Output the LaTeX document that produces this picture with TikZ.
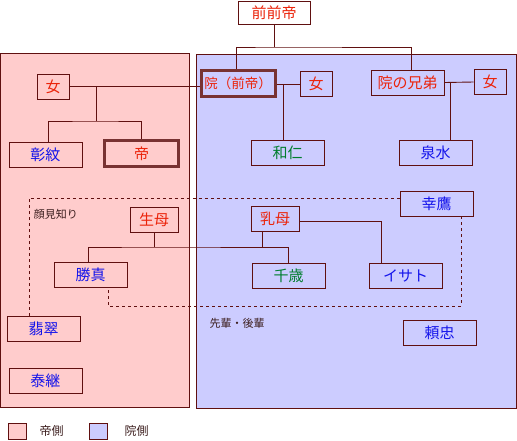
\documentclass[tikz,border=0pt]{standalone}
\usepackage{fontspec}
\setmainfont{Noto Sans CJK JP}
\usetikzlibrary{positioning}
\definecolor{pinkbg}{RGB}{255,204,204}
\definecolor{bluebg}{RGB}{204,204,255}
\definecolor{edge}{RGB}{96,16,16}
\definecolor{heavyedge}{RGB}{120,50,50}
\definecolor{redtxt}{RGB}{235,35,10}
\definecolor{bluetxt}{RGB}{20,20,235}
\definecolor{greentxt}{RGB}{0,125,45}
\definecolor{labeltxt}{RGB}{60,30,30}

\begin{document}
\begin{tikzpicture}[x=1pt, y=-1pt,
    every node/.style={font=\fontsize{15}{15}\selectfont, inner sep=0pt},
    ppl/.style={draw=edge, line width=0.9pt, minimum width=73pt, minimum height=25pt},
    onnabox/.style={ppl, minimum width=32pt},
    heavy/.style={draw=heavyedge, line width=3pt, minimum width=74pt, minimum height=26pt},
    rtxt/.style={text=redtxt},
    btxt/.style={text=bluetxt},
    gtxt/.style={text=greentxt},
    link/.style={draw=edge, line width=0.9pt},
    dotline/.style={draw=edge, line width=0.9pt, dash pattern=on 3pt off 3pt},
    note/.style={font=\fontsize{11}{11}\selectfont, text=labeltxt},
    legend/.style={draw=edge, line width=0.9pt, minimum width=18pt, minimum height=16pt}
]
  \useasboundingbox (0,0) rectangle (517,440);

  % Zonas: lado del emperador y lado del In
  \filldraw[fill=pinkbg, draw=edge, line width=0.9pt] (0.5,53) rectangle (189,407);
  \filldraw[fill=bluebg, draw=edge, line width=0.9pt] (196,54) rectangle (516.5,408);

  % Personajes
  \node[ppl, minimum width=72pt, minimum height=23pt, fill=white, rtxt] (zzt) at (274,12.5) {前前帝};
  \node[onnabox, fill=pinkbg, rtxt] (o1) at (53,86.5) {女};
  \node[heavy, fill=bluebg, rtxt, font=\fontsize{13.5}{13.5}\selectfont] (in) at (238,83.5) {院（前帝）};
  \node[onnabox, fill=bluebg, rtxt] (o2) at (316,84) {女};
  \node[ppl, fill=bluebg, rtxt] (ani) at (407.5,82.5) {院の兄弟};
  \node[onnabox, fill=bluebg, rtxt] (o3) at (490,82) {女};

  \node[ppl, fill=pinkbg, btxt] (sho) at (45.5,154.5) {彰紋};
  \node[heavy, fill=pinkbg, rtxt] (mik) at (141.5,153.5) {帝};
  \node[ppl, fill=bluebg, gtxt] (kaz) at (287.5,152.5) {和仁};
  \node[ppl, fill=bluebg, btxt] (izu) at (435.5,152.5) {泉水};

  \node[ppl, fill=bluebg, btxt] (yuk) at (436.5,203.5) {幸鷹};
  \node[ppl, minimum width=48pt, fill=pinkbg, rtxt] (sei) at (154,219.5) {生母};
  \node[ppl, minimum width=48pt, fill=bluebg, rtxt] (men) at (275,218.5) {乳母};

  \node[ppl, fill=pinkbg, btxt] (kat) at (90.5,275) {勝真};
  \node[ppl, fill=bluebg, gtxt] (chi) at (288.5,276) {千歳};
  \node[ppl, fill=bluebg, btxt] (isa) at (405.5,276) {イサト};

  \node[ppl, fill=pinkbg, btxt] (hi) at (43.5,329) {翡翠};
  \node[ppl, fill=bluebg, btxt] (yor) at (439.5,333) {頼忠};
  \node[ppl, fill=pinkbg, btxt] (yas) at (45.5,380.5) {泰継};

  % Rotulos
  \node[note] (kao) at (56,214) {顔見知り};
  \node[note] (sen) at (237,323) {先輩・後輩};

  % Parentesco
  \coordinate (j0) at (274,47);
  \draw[link] (zzt.south) -- (j0);
  \draw[link] ([xshift=-2pt]in.north) |- (j0) -| ([xshift=3.5pt]ani.north);

  \coordinate (j1) at (96,121);
  \draw[link] (o1.east) -- (o1.east -| in.west);
  \draw[link] (o1.east -| j1) -- (j1);
  \draw[link] ([xshift=2.5pt]sho.north) |- (j1) -| (mik.north);

  \draw[link] (o2.west -| in.east) -- (o2.west);
  \draw[link] ([xshift=-4.5pt]kaz.north) -- ([xshift=-4.5pt]kaz.north |- o2.west);

  \draw[link] (ani.east) -- (o3.west);
  \draw[link] ([xshift=14.5pt]izu.north) -- ([xshift=14.5pt]izu.north |- ani.east);

  \coordinate (j2) at (154,247);
  \draw[link] (sei.south) -- (j2);
  \draw[link] ([xshift=-2.5pt]kat.north) |- (j2) -| (chi.north);
  \draw[link] ([xshift=-13pt]men.south) -- ([xshift=-13pt]men.south |- j2);
  \draw[link] ([yshift=-3pt]men.east) -| ([xshift=-24.5pt]isa.north);

  % Conocidos
  \draw[dotline] ([xshift=-14.5pt]hi.north) |- ([yshift=5.5pt]yuk.west);
  \coordinate (j3) at (461,306);
  \draw[dotline] ([xshift=24.5pt]yuk.south) -- (j3) -| ([xshift=17.5pt]kat.south);

  % Leyenda
  \node[legend, fill=pinkbg] (lgp) at (17,431) {};
  \node[font=\fontsize{12}{12}\selectfont, text=labeltxt, right=13pt of lgp] (lgpt) {帝側};
  \node[legend, fill=bluebg] (lgb) at (98,431) {};
  \node[font=\fontsize{12}{12}\selectfont, text=labeltxt, right=17pt of lgb] (lgbt) {院側};
\end{tikzpicture}
\end{document}
